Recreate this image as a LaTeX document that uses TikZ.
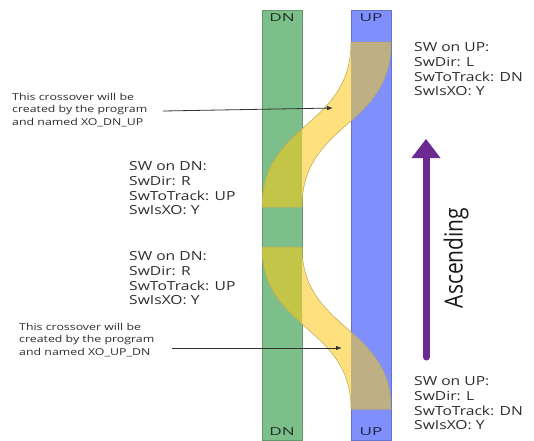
\documentclass[tikz,border=0pt]{standalone}
\usepackage{fontspec}
\setmainfont{Open Sans}
\newfontfamily\widefont[FakeStretch=1.25]{Open Sans}
\newfontfamily\callfont[FakeStretch=1.3]{Open Sans}
\newfontfamily\labfont[FakeStretch=1.55]{Open Sans}
\usetikzlibrary{arrows.meta}
\definecolor{trkgreen}{HTML}{7DBF8A}
\definecolor{trkblue}{HTML}{7F8FFC}
\definecolor{xoyellow}{HTML}{FFE07E}
\definecolor{xoolive}{HTML}{C3C548}
\definecolor{xotan}{HTML}{BFAF85}
\definecolor{xoedge}{HTML}{B8A850}
\definecolor{ascpurple}{HTML}{6A2A92}
\definecolor{txtgray}{HTML}{2B2B2B}
\tikzset{
  infotext/.style={anchor=north west, inner sep=0pt, align=left, text=txtgray, font=\widefont\fontsize{12.5}{14.7}\selectfont},
  calltext/.style={anchor=north west, inner sep=0pt, align=left, text=txtgray, font=\callfont\fontsize{9.5}{12.4}\selectfont},
  trklabel/.style={inner sep=0pt, font=\labfont\fontsize{11}{11}\selectfont},
  callarrow/.style={draw=black!80, line width=0.8pt, -{Latex[length=6pt,width=4.5pt]}},
}
\begin{document}
\begin{tikzpicture}[x=1pt,y=-1pt]
\useasboundingbox (0,0) rectangle (534,440);
% tracks
\fill[trkgreen] (262,10) rectangle (302,440);
\fill[trkblue] (351,10) rectangle (391,440);
\draw[trkgreen!80!black, line width=0.3pt] (262,10) rectangle (302,440);
\draw[trkblue!80!black, line width=0.3pt] (351,10) rectangle (391,440);
% crossover paths
\def\xoA{(351,42) -- (391,42) .. controls (391,128) and (302,122) .. (302,207) -- (262,207) .. controls (262,122) and (351,128) .. (351,42) -- cycle}
\def\xoB{(262,247) -- (302,247) .. controls (302,330) and (391,326) .. (391,409) -- (351,409) .. controls (351,326) and (262,330) .. (262,247) -- cycle}
\fill[xoyellow] \xoA;
\fill[xoyellow] \xoB;
\begin{scope}
\clip (262,10) rectangle (302,440);
\fill[xoolive] \xoA;
\fill[xoolive] \xoB;
\end{scope}
\begin{scope}
\clip (351,10) rectangle (391,440);
\fill[xotan] \xoA;
\fill[xotan] \xoB;
\end{scope}
\draw[xoedge, line width=0.5pt] \xoA;
\draw[xoedge, line width=0.5pt] \xoB;
% track labels
\node[trklabel, text=black!75!trkgreen] (dntop) at (282,18) {DN};
\node[trklabel, text=black!75!trkblue] (uptop) at (371,18) {UP};
\node[trklabel, text=black!75!trkgreen] (dnbot) at (282,432) {DN};
\node[trklabel, text=black!75!trkblue] (upbot) at (371,432) {UP};
% info blocks
\node[infotext] (swupA) at (414,42.5) {SW on UP:\\SwDir: L\\SwToTrack: DN\\SwIsXO: Y};
\node[infotext] (swdnA) at (129,161.5) {SW on DN:\\SwDir: R\\SwToTrack: UP\\SwIsXO: Y};
\node[infotext] (swdnB) at (129,251.5) {SW on DN:\\SwDir: R\\SwToTrack: UP\\SwIsXO: Y};
\node[infotext] (swupB) at (414,376.5) {SW on UP:\\SwDir: L\\SwToTrack: DN\\SwIsXO: Y};
% callouts
\node[calltext] (callA) at (12,93) {This crossover will be\\created by the program\\and named XO\_DN\_UP};
\node[calltext] (callB) at (19,323) {This crossover will be\\created by the program\\and named XO\_UP\_DN};
\coordinate (tipA) at (333,108);
\coordinate (tipB) at (342,348);
\draw[callarrow] (163,111) -- (tipA);
\draw[callarrow] (172,348) -- (tipB);
% ascending arrow
\coordinate (ascbot) at (426,357);
\coordinate (asctop) at (426,139);
\draw[ascpurple, line width=7pt, line cap=round] (ascbot) -- (426,156);
\fill[ascpurple] (411.5,158) -- (440.5,158) -- (asctop) -- cycle;
\node[rotate=90, inner sep=0pt, text=black!90] (asc) at (456,258) {\scalebox{0.84}[1]{\fontsize{25}{25}\selectfont Ascending}};
\end{tikzpicture}
\end{document}
